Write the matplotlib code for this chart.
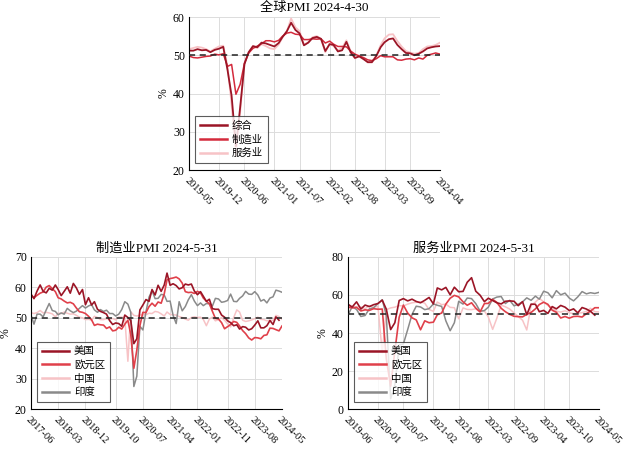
import matplotlib
matplotlib.use("Agg")
import matplotlib.pyplot as plt
import numpy as np
import pandas as pd

plt.rcParams['font.family'] = ['Liberation Serif', 'Noto Sans CJK SC', 'DejaVu Sans']

# ---------------- Global PMI (2019-05 .. 2024-04) ----------------
g_dates = pd.date_range("2019-05-01", "2024-04-01", freq="MS")
g_composite = [51.2, 51.2, 51.6, 51.3, 51.4, 50.8, 51.4, 51.7,
               52.2, 46.1, 39.4, 26.2, 36.3, 47.7, 50.8, 52.4, 52.1, 53.3, 53.1, 52.7,
               52.3, 53.2, 54.8, 56.3, 58.5, 56.6, 55.7, 52.6, 53.3, 54.5, 54.8, 54.3,
               51.1, 52.9, 52.7, 51.0, 51.3, 53.5, 50.8, 49.3, 49.7, 49.0, 48.2, 48.2,
               49.8, 52.1, 53.4, 54.2, 54.4, 52.7, 51.6, 50.6, 50.5, 50.0, 50.4, 51.0,
               51.8, 52.1, 52.3, 52.4]
g_manuf = [49.8, 49.4, 49.3, 49.5, 49.7, 49.8, 50.3, 50.1,
           50.4, 47.1, 47.6, 39.8, 42.4, 47.9, 50.6, 51.8, 52.4, 53.0, 53.8, 53.8,
           53.5, 53.9, 55.0, 55.8, 56.0, 55.5, 55.4, 54.1, 54.1, 54.3, 54.2, 54.3,
           53.2, 53.7, 52.9, 52.3, 52.3, 52.2, 51.1, 50.3, 49.8, 49.4, 48.8, 48.6,
           49.1, 49.9, 49.6, 49.6, 49.6, 48.8, 48.7, 49.0, 49.1, 48.8, 49.3, 49.0,
           50.0, 50.3, 50.6, 50.3]
g_services = [51.6, 51.9, 52.2, 52.0, 51.6, 51.0, 51.7, 52.3,
              52.5, 47.1, 37.1, 23.7, 35.1, 48.0, 50.5, 52.2, 51.9, 52.9, 52.4, 51.8,
              51.6, 52.8, 54.7, 56.3, 59.6, 57.3, 56.3, 52.8, 53.4, 54.7, 55.0, 54.3,
              50.8, 53.1, 52.4, 51.3, 51.9, 53.9, 51.1, 49.2, 50.0, 49.2, 48.1, 48.1,
              50.0, 52.6, 54.4, 55.4, 55.5, 53.7, 52.3, 51.1, 50.7, 50.4, 50.6, 51.6,
              52.3, 52.4, 52.7, 53.3]
g_ticks = ["2019-05", "2019-12", "2020-06", "2021-01", "2021-07", "2022-02",
           "2022-08", "2023-03", "2023-09", "2024-04"]

# ---------------- Manufacturing PMI (2017-06 .. 2024-05) ----------------
m_dates = pd.date_range("2017-06-01", "2024-05-01", freq="MS")
m_us = [57.8, 56.3, 58.8, 60.8, 58.7, 58.2, 59.7,
        59.1, 60.8, 59.3, 57.3, 58.7, 60.2, 58.1, 61.3, 59.8, 57.7, 59.3, 54.3,
        56.6, 54.2, 55.3, 52.8, 52.1, 51.7, 51.2, 49.1, 47.8, 48.3, 48.1, 47.2,
        50.9, 50.1, 49.1, 41.5, 43.1, 52.6, 54.2, 56.0, 55.4, 59.3, 57.5, 60.7,
        58.7, 60.8, 64.7, 60.7, 61.2, 60.6, 59.5, 59.9, 61.1, 60.8, 61.1, 58.8,
        57.6, 58.6, 57.1, 55.4, 56.1, 53.0, 52.8, 52.8, 50.9, 50.2, 49.0, 48.4,
        47.4, 47.7, 46.3, 47.1, 46.9, 46.0, 46.4, 47.6, 49.0, 46.7, 46.7, 47.4,
        49.1, 47.8, 50.3, 49.2, np.nan]
m_ez = [57.4, 56.6, 57.4, 58.1, 58.5, 60.1, 60.6,
        59.6, 58.6, 56.6, 56.2, 55.5, 54.9, 55.1, 54.6, 53.2, 52.0, 51.8, 51.4,
        50.5, 49.3, 47.5, 47.9, 47.7, 47.6, 46.5, 47.0, 45.7, 45.9, 46.9, 46.3,
        47.9, 49.2, 44.5, 33.4, 39.4, 47.4, 51.8, 51.7, 53.7, 54.8, 53.8, 55.2,
        54.8, 57.9, 62.5, 62.9, 63.1, 63.4, 62.8, 61.4, 58.6, 58.3, 58.4, 58.0,
        58.7, 58.2, 56.5, 55.5, 54.6, 52.1, 49.8, 49.6, 48.4, 46.4, 47.1, 47.8,
        48.8, 48.5, 47.3, 45.8, 44.8, 43.4, 42.7, 43.5, 43.4, 43.1, 44.2, 44.4,
        46.6, 46.5, 46.1, 45.7, 47.3]
m_cn = [51.7, 51.4, 51.7, 52.4, 51.6, 51.8, 51.6,
        51.3, 50.3, 51.5, 51.4, 51.9, 51.5, 51.2, 51.3, 50.8, 50.2, 50.0, 49.4,
        49.5, 49.2, 50.5, 50.1, 49.4, 49.4, 49.7, 49.5, 49.8, 49.3, 50.2, 50.2,
        50.0, 35.7, 52.0, 50.8, 50.6, 50.9, 51.1, 51.0, 51.5, 51.4, 52.1, 51.9,
        51.3, 50.6, 51.9, 51.1, 51.0, 50.9, 50.4, 50.1, 49.6, 49.2, 50.1, 50.3,
        50.1, 50.2, 49.5, 47.4, 49.6, 50.2, 49.0, 49.4, 50.1, 49.2, 48.0, 47.0,
        50.1, 52.6, 51.9, 49.2, 48.8, 49.0, 49.3, 49.7, 50.2, 49.5, 49.4, 49.0,
        49.2, 49.1, 50.8, 50.4, 49.5]
m_in = [50.9, 47.9, 51.2, 51.2, 50.3, 52.6, 54.7,
        52.4, 52.1, 51.0, 51.6, 51.2, 53.1, 52.3, 51.7, 52.2, 53.1, 54.0, 53.2,
        53.9, 54.3, 52.6, 51.8, 52.7, 52.1, 52.5, 51.4, 51.4, 50.6, 51.2, 52.7,
        55.3, 54.5, 51.8, 27.4, 30.8, 47.2, 46.0, 52.0, 56.8, 58.9, 56.3, 56.4,
        57.7, 57.5, 55.4, 55.5, 50.8, 48.1, 55.3, 52.3, 53.7, 55.9, 57.6, 55.5,
        54.0, 54.9, 54.0, 54.7, 54.6, 53.9, 56.4, 56.2, 55.1, 55.3, 55.7, 57.8,
        55.4, 55.3, 56.4, 57.2, 58.7, 57.8, 57.7, 58.6, 57.5, 55.5, 56.0, 54.9,
        56.5, 56.9, 59.1, 58.8, 58.4]
m_ticks = ["2017-06", "2018-03", "2018-12", "2019-10", "2020-07", "2021-04",
           "2022-01", "2022-11", "2023-08", "2024-05"]

# ---------------- Services PMI (2019-06 .. 2024-05) ----------------
s_dates = pd.date_range("2019-06-01", "2024-05-01", freq="MS")
s_us = [55.1, 53.7, 56.4, 52.6, 54.7, 53.9, 54.9,
        55.5, 57.3, 52.5, 41.8, 45.4, 57.1, 58.1, 56.9, 57.8, 56.6, 55.9, 57.2,
        58.7, 55.3, 63.7, 62.7, 64.0, 60.1, 64.1, 61.7, 61.9, 66.7, 69.1, 62.0,
        59.9, 56.5, 58.3, 57.1, 55.9, 55.3, 56.7, 56.9, 56.7, 54.4, 56.5, 49.6,
        55.2, 55.1, 51.2, 51.9, 50.3, 53.9, 52.7, 54.5, 53.6, 51.8, 52.7, 50.6,
        53.4, 52.6, 51.4, 49.4, np.nan]
s_ez = [53.6, 53.2, 53.5, 51.6, 52.2, 51.9, 52.8,
        52.5, 52.6, 26.4, 12.0, 30.5, 48.3, 54.7, 50.5, 48.0, 46.9, 41.7, 46.4,
        45.4, 45.7, 49.6, 50.5, 55.2, 58.3, 59.8, 59.0, 56.4, 54.6, 55.9, 53.1,
        51.1, 55.5, 55.6, 57.7, 56.1, 53.0, 51.2, 49.8, 48.8, 48.6, 48.5, 49.8,
        50.8, 52.7, 55.0, 56.2, 55.1, 52.0, 50.9, 47.9, 48.7, 47.8, 48.7, 48.8,
        48.4, 50.2, 51.5, 53.3, 53.3]
s_cn = [54.2, 53.7, 53.8, 53.7, 52.8, 54.4, 53.5,
        54.1, 29.6, 52.3, 53.2, 53.6, 54.4, 54.2, 55.2, 55.9, 56.2, 56.4, 55.7,
        52.4, 51.4, 56.3, 54.9, 55.2, 53.5, 53.3, 47.5, 53.2, 52.4, 52.3, 52.7,
        51.1, 51.6, 48.4, 41.9, 47.8, 54.7, 53.8, 52.6, 50.6, 48.7, 46.7, 41.6,
        54.4, 56.3, 58.2, 56.4, 54.5, 53.2, 51.5, 51.0, 51.7, 50.6, 50.2, 50.4,
        50.7, 51.4, 53.0, 51.2, 51.1]
s_in = [49.6, 53.8, 52.4, 48.7, 49.2, 52.7, 53.3,
        55.5, 57.5, 49.3, 5.4, 12.6, 33.7, 34.2, 41.8, 49.8, 54.1, 53.7, 52.3,
        52.8, 55.3, 54.6, 54.0, 46.4, 41.2, 45.4, 56.7, 55.2, 58.4, 58.1, 55.5,
        51.5, 51.8, 53.6, 57.9, 58.9, 59.2, 55.5, 57.2, 54.3, 55.1, 56.4, 58.5,
        57.2, 59.4, 57.8, 62.0, 61.2, 58.5, 62.3, 60.1, 61.0, 58.4, 56.9, 59.0,
        61.8, 60.6, 61.2, 60.8, 61.4]
s_ticks = ["2019-06", "2020-01", "2020-07", "2021-02", "2021-08", "2022-03",
           "2022-09", "2023-04", "2023-10", "2024-05"]

C_DARK = "#9b1526"
C_RED = "#e0404a"
C_PINK = "#f7c3c6"
C_GRAY = "#8a8a8a"
C_MFG = "#d42a3c"

fig = plt.figure(figsize=(6.29, 4.5), dpi=100)
ax1 = fig.add_axes([0.3005, 0.6222, 0.399, 0.340])
ax2 = fig.add_axes([0.0493, 0.0911, 0.399, 0.3378])
ax3 = fig.add_axes([0.5533, 0.0911, 0.399, 0.3378])


def style(ax, dates, ticks, ylim, yticks, title):
    ax.set_xlim(dates[0], dates[-1])
    ax.set_ylim(*ylim)
    ax.set_yticks(yticks)
    tpos = pd.to_datetime(ticks)
    ax.set_xticks(tpos)
    ax.set_xticklabels(ticks, rotation=-45, ha='left', va='top',
                       rotation_mode='anchor', fontsize=7.5)
    ax.tick_params(axis='y', labelsize=8.5, length=0, pad=3)
    ax.tick_params(axis='x', length=0, pad=4)
    ax.grid(True, color='#dcdcdc', linewidth=0.7)
    ax.set_axisbelow(True)
    for s in ['top', 'right']:
        ax.spines[s].set_visible(False)
    for s in ['left', 'bottom']:
        ax.spines[s].set_linewidth(0.8)
        ax.spines[s].set_color('black')
    ax.axhline(50, color='#222222', linestyle=(0, (4, 3)), linewidth=1.1, zorder=5)
    ax.set_ylabel('%', fontsize=8.5, labelpad=2)
    ax.set_title(title, fontsize=9.5, pad=4)


def legend(ax, labels):
    h, l = ax.get_legend_handles_labels()
    hd = dict(zip(l, h))
    leg = ax.legend([hd[k] for k in labels], labels,
                    loc='lower left', bbox_to_anchor=(0.024, 0.046),
                    borderaxespad=0, fancybox=False, frameon=True,
                    edgecolor='#333333', fontsize=7.5, handlelength=2.6,
                    handletextpad=0.5, labelspacing=0.35, borderpad=0.45,
                    prop={'family': ['Noto Sans CJK SC', 'DejaVu Sans'], 'size': 7.5})
    leg.get_frame().set_linewidth(0.8)
    for ln in leg.get_lines():
        ln.set_linewidth(1.8)
    leg.set_zorder(10)


# top: global
ax1.plot(g_dates, g_services, color=C_PINK, linewidth=1.3, label='服务业')
ax1.plot(g_dates, g_manuf, color=C_MFG, linewidth=1.1, label='制造业')
ax1.plot(g_dates, g_composite, color=C_DARK, linewidth=1.3, label='综合')
style(ax1, g_dates, g_ticks, (20, 60), [20, 30, 40, 50, 60], '全球PMI 2024-4-30')
legend(ax1, ['综合', '制造业', '服务业'])

order = ['美国', '欧元区', '中国', '印度']

# bottom-left: manufacturing
ax2.plot(m_dates, m_cn, color=C_PINK, linewidth=1.1, label='中国')
ax2.plot(m_dates, m_in, color=C_GRAY, linewidth=1.1, label='印度')
ax2.plot(m_dates, m_ez, color=C_RED, linewidth=1.2, label='欧元区')
ax2.plot(m_dates, m_us, color=C_DARK, linewidth=1.2, label='美国')
style(ax2, m_dates, m_ticks, (20, 70), [20, 30, 40, 50, 60, 70], '制造业PMI 2024-5-31')
legend(ax2, order)

# bottom-right: services
ax3.plot(s_dates, s_cn, color=C_PINK, linewidth=1.1, label='中国')
ax3.plot(s_dates, s_in, color=C_GRAY, linewidth=1.1, label='印度')
ax3.plot(s_dates, s_ez, color=C_RED, linewidth=1.2, label='欧元区')
ax3.plot(s_dates, s_us, color=C_DARK, linewidth=1.2, label='美国')
style(ax3, s_dates, s_ticks, (0, 80), [0, 20, 40, 60, 80], '服务业PMI 2024-5-31')
legend(ax3, order)

fig.savefig('out.png', dpi=100)
